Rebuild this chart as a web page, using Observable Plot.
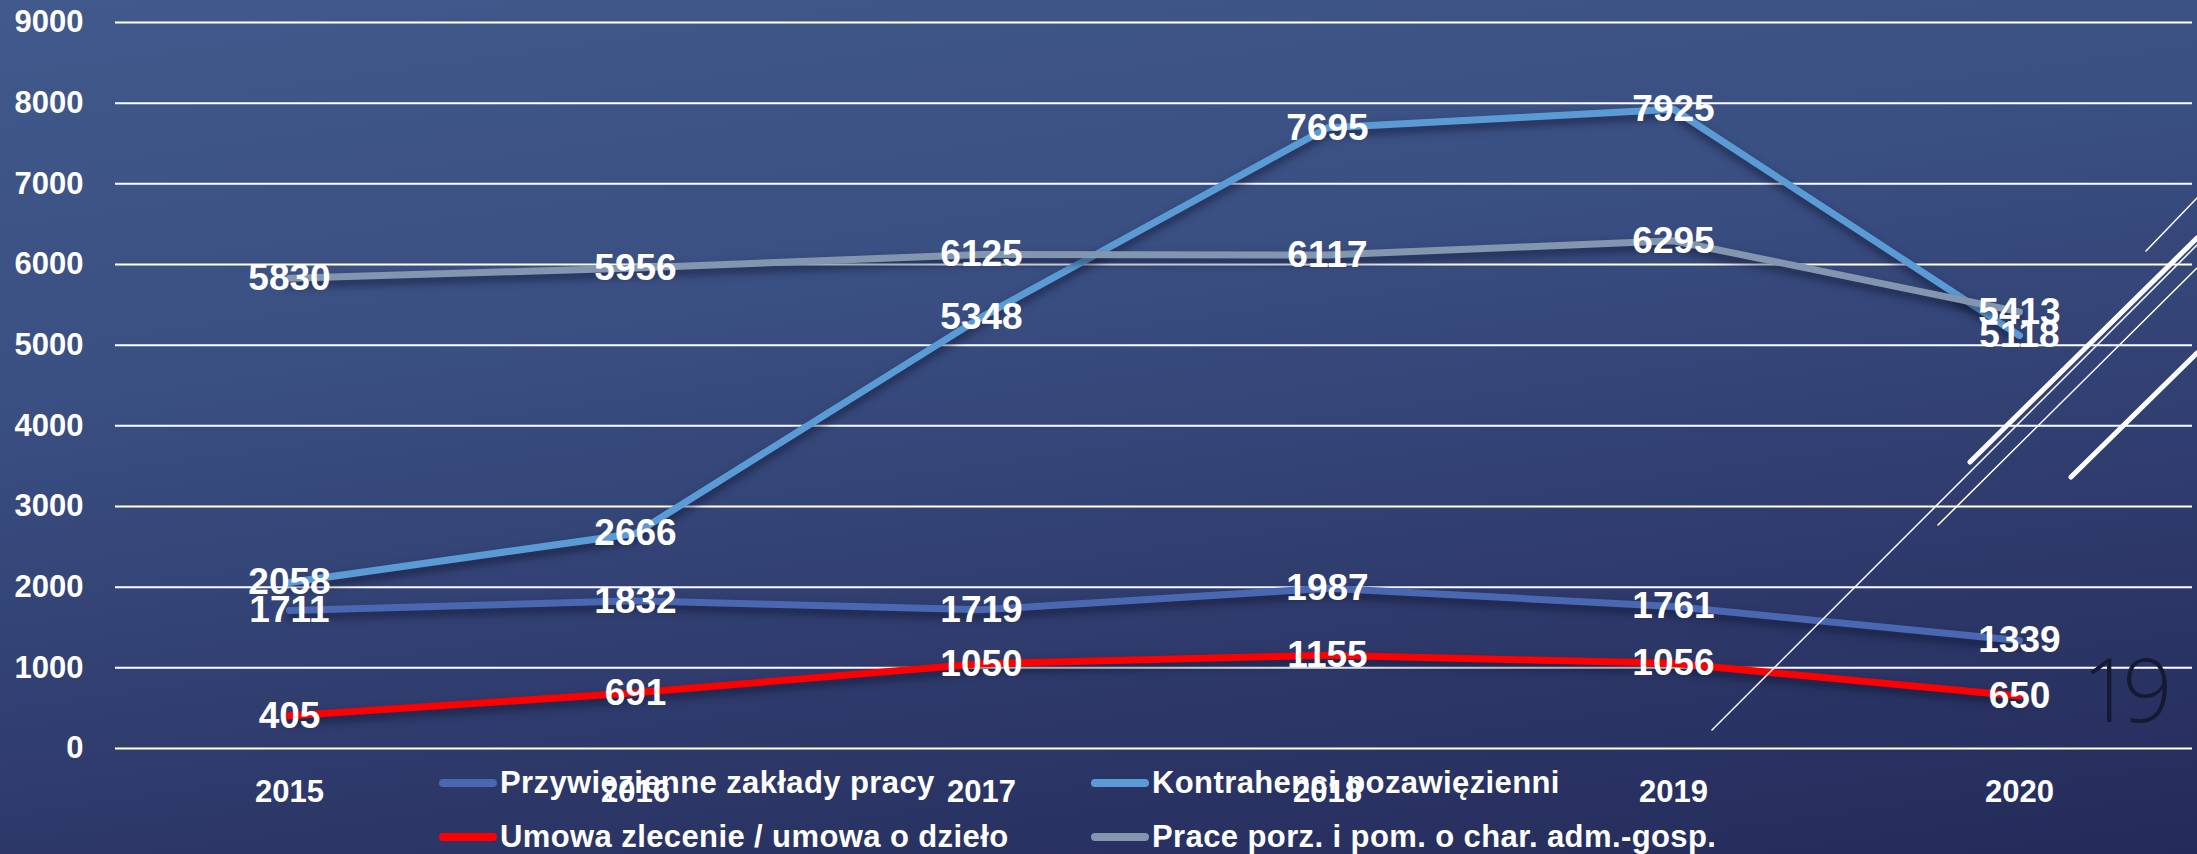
<!DOCTYPE html>
<html><head><meta charset="utf-8">
<script src="https://cdn.jsdelivr.net/npm/d3@7"></script>
<script src="https://cdn.jsdelivr.net/npm/@observablehq/plot@0.6"></script>
<style>
html,body{margin:0;padding:0;}
body{width:2197px;height:854px;overflow:hidden;position:relative;
  background:linear-gradient(172deg,#41598c 0%,#3a4f82 35%,#2e3a6b 70%,#242b5a 100%);
  font-family:"Liberation Sans",Arial,sans-serif;}
#chart{position:absolute;left:0;top:0;}
#deco{position:absolute;left:0;top:0;}
.lg{position:absolute;display:flex;align-items:center;height:40px;line-height:40px;color:#fff;font-weight:bold;font-size:31px;white-space:nowrap;letter-spacing:0.4px;}
.sw{width:58px;height:8px;border-radius:4px;margin-right:3px;flex:none;}
#chart svg g[aria-label="line"] path{filter:drop-shadow(0px 5px 4px rgba(10,14,40,0.6));}
</style>
</head><body>
<div id="chart"></div>
<div id="legend"></div>
<svg id="deco" width="2197" height="854">
  <g stroke="#fff" stroke-linecap="round" fill="none">
    <line x1="1712" y1="730" x2="2197" y2="245" stroke-width="1.5"/>
    <line x1="1938" y1="525" x2="2197" y2="268" stroke-width="1.5"/>
    <line x1="1970" y1="462" x2="2197" y2="238" stroke-width="5"/>
    <line x1="2071" y1="477" x2="2197" y2="353" stroke-width="5"/>
    <line x1="2146" y1="251" x2="2197" y2="198" stroke-width="1.5"/>
  </g>
  <text x="2082" y="722" font-family="Open Sans" font-weight="300" font-size="88" fill="#151a33" letter-spacing="-10">19</text>
</svg>
<script>
const years = ["2015","2016","2017","2018","2019","2020"];
const seriesNames = ["Przywięzienne zakłady pracy","Kontrahenci pozawięzienni","Umowa zlecenie / umowa o dzieło","Prace porz. i pom. o char. adm.-gosp."];
const seriesColors = ["#4a68b1","#5b9bd5","#ff0000","#8396b0"];
const zakladyPracy = [1711,1832,1719,1987,1761,1339];
const kontrahenci = [2058,2666,5348,7695,7925,5118];
const umowa = [405,691,1050,1155,1056,650];
const pracePorz = [5830,5956,6125,6117,6295,5413];
const yTicks = [0,1000,2000,3000,4000,5000,6000,7000,8000,9000];

const seriesValues = [zakladyPracy, kontrahenci, umowa, pracePorz];
const rows = [];
seriesNames.forEach((s, i) => years.forEach((y, j) => rows.push({series: s, year: y, value: seriesValues[i][j]})));

const chart = Plot.plot({
  width: 2197, height: 854,
  marginTop: 22, marginBottom: 106, marginLeft: 115, marginRight: 5,
  style: {background: "transparent", color: "white", fontFamily: "Liberation Sans, Arial, sans-serif", fontWeight: "bold", fontSize: "31px"},
  x: {type: "point", domain: years, padding: 0.5},
  y: {domain: [0, 9000]},
  color: {domain: seriesNames, range: seriesColors},
  marks: [
    Plot.ruleY(yTicks, {stroke: "white", strokeWidth: 2}),
    Plot.axisY({ticks: yTicks, tickFormat: d => String(d), tickSize: 0, tickPadding: 32, fontSize: 31, fontWeight: "bold", label: null}),
    Plot.axisX({tickSize: 0, tickPadding: 31, fontSize: 31, fontWeight: "bold", label: null}),
    Plot.line(rows, {x: "year", y: "value", z: "series", stroke: "series", strokeWidth: 7, strokeLinecap: "round", strokeLinejoin: "round"}),
    Plot.text(rows, {x: "year", y: "value", text: d => String(d.value), fill: "white", fontSize: 37, fontWeight: "bold"})
  ]
});
document.getElementById("chart").appendChild(chart);

const legendPos = [[439, 763], [1091, 763], [439, 817], [1091, 817]];
const legend = document.getElementById("legend");
seriesNames.forEach((s, i) => {
  const d = document.createElement("div");
  d.className = "lg";
  d.style.left = legendPos[i][0] + "px";
  d.style.top = legendPos[i][1] + "px";
  const sw = document.createElement("span");
  sw.className = "sw";
  sw.style.background = seriesColors[i];
  d.appendChild(sw);
  d.appendChild(document.createTextNode(s));
  legend.appendChild(d);
});
</script>
</body></html>
